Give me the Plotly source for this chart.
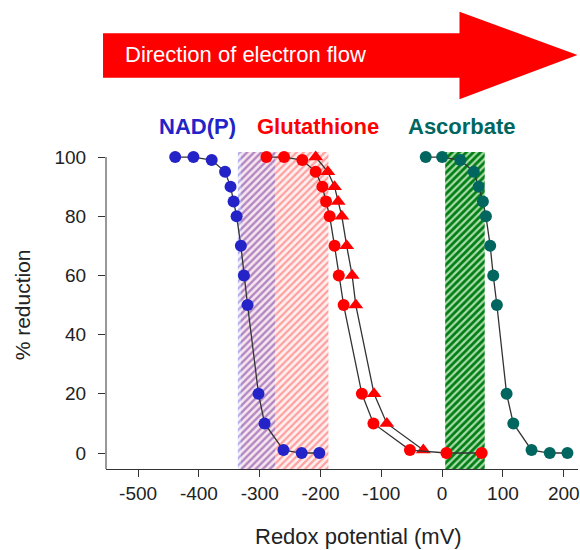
import plotly.graph_objects as go

# ---------------- data ----------------
nadp_x = [-439, -409, -379, -357, -348, -343, -338, -331, -326, -320, -302, -292, -261, -231, -202]
nadp_y = [100, 100, 99, 95, 90, 85, 80, 70, 60, 50, 20, 10, 1, 0, 0]

gsh_circle_x = [-289, -260, -230, -208, -197, -191, -185, -177, -170, -162, -132, -113, -53, 7, 65]
gsh_circle_y = [100, 100, 99, 95, 90, 85, 80, 70, 60, 50, 20, 10, 1, 0, 0]

gsh_tri_x = [-208, -188, -177, -171, -165, -157, -148, -142, -112, -91, -31]
gsh_tri_y = [100, 95, 90, 85, 80, 70, 60, 50, 20, 10, 1]

asc_x = [-27, 0, 30, 52, 60, 67, 72, 79, 84, 90, 106, 117, 147, 177, 206]
asc_y = [100, 100, 99, 95, 90, 85, 80, 70, 60, 50, 20, 10, 1, 0, 0]

# shaded potential windows (mV)
region_start = [-331, -336, 5]
region_end = [-187, -275, 70]

x_ticks = [-500, -400, -300, -200, -100, 0, 100, 200]
y_ticks = [0, 20, 40, 60, 80, 100]

series_labels = ["NAD(P)", "Glutathione", "Ascorbate"]

# ---------------- styling ----------------
W, H = 580, 550
ML, MR, MT, MB = 106, 0, 152, 81
XR = [-552.8, 223.4]
YR = [-5.4, 101.7]

BLUE = "#2323c8"
RED = "#ff0000"
TEAL = "#00665f"
LINE = "#333333"
FONT = "Arial, Liberation Sans, sans-serif"

pw = W - ML - MR
ph = H - MT - MB


def px_x(px):
    return (px - ML) / pw


def px_y(py):
    return (H - MB - py) / ph


fig = go.Figure()

region_styles = [
    dict(fg="rgba(255,60,60,0.45)", bg="rgba(255,225,225,0.5)", size=5, sol=0.45),
    dict(fg="rgba(90,90,220,0.45)", bg="rgba(215,200,235,0.25)", size=5, sol=0.45),
    dict(fg="rgb(0,125,20)", bg="rgb(170,220,170)", size=5, sol=0.55),
]
for s, e, st in zip(region_start, region_end, region_styles):
    fig.add_trace(go.Bar(
        x=[(s + e) / 2], y=[YR[1] - YR[0]], base=[YR[0]], width=[e - s],
        marker=dict(color="rgba(0,0,0,0)", line=dict(width=0),
                    pattern=dict(shape="/", fgcolor=st["fg"], bgcolor=st["bg"],
                                 size=st["size"], solidity=st["sol"], fillmode="replace")),
        hoverinfo="skip", showlegend=False))


def series(x, y, color, symbol, size):
    return go.Scatter(
        x=x, y=y, mode="lines+markers",
        line=dict(color=LINE, width=1.3),
        marker=dict(color=color, symbol=symbol, size=size, line=dict(width=0)),
        cliponaxis=False, showlegend=False)


fig.add_trace(series(nadp_x, nadp_y, BLUE, "circle", 12))
fig.add_trace(series(gsh_tri_x, gsh_tri_y, RED, "triangle-up", 13))
fig.add_trace(series(gsh_circle_x, gsh_circle_y, RED, "circle", 12))
fig.add_trace(series(asc_x, asc_y, TEAL, "circle", 12))

# arrow (decoration) in pixel -> paper coords
arrow_px = [(103, 33.3), (461, 33.3), (461, 11.7), (579.5, 55), (461, 99.3), (461, 77.7), (103, 77.7)]
path = "M " + " L ".join(f"{px_x(a):.4f},{px_y(b):.4f}" for a, b in arrow_px) + " Z"
fig.add_shape(type="path", path=path, xref="paper", yref="paper",
              fillcolor="#ff0000", line=dict(width=0), layer="above")

# y axis line from bottom to 100
fig.add_shape(type="line", xref="paper", yref="y", x0=0, x1=0, y0=YR[0], y1=100,
              line=dict(color=LINE, width=1))

ann = [
    dict(text="Direction of electron flow", x=px_x(123), y=px_y(55), xanchor="left",
         yanchor="middle", font=dict(size=22, color="white", family=FONT)),
    dict(text=f"<b>{series_labels[0]}</b>", x=px_x(198), y=px_y(126), xanchor="center",
         yanchor="middle", font=dict(size=22, color=BLUE, family=FONT)),
    dict(text=f"<b>{series_labels[1]}</b>", x=px_x(319), y=px_y(126), xanchor="center",
         yanchor="middle", font=dict(size=22, color=RED, family=FONT)),
    dict(text=f"<b>{series_labels[2]}</b>", x=px_x(464), y=px_y(126), xanchor="center",
         yanchor="middle", font=dict(size=22, color=TEAL, family=FONT)),
    dict(text="Redox potential (mV)", x=px_x(360), y=px_y(536), xanchor="center",
         yanchor="middle", font=dict(size=22, color="#222", family=FONT)),
    dict(text="% reduction", x=px_x(22), y=px_y(305), xanchor="center",
         yanchor="middle", textangle=-90, font=dict(size=21, color="#222", family=FONT)),
]
for a in ann:
    fig.add_annotation(xref="paper", yref="paper", showarrow=False, **a)

fig.update_layout(
    width=W, height=H, margin=dict(l=ML, r=MR, t=MT, b=MB, pad=0),
    paper_bgcolor="white", plot_bgcolor="white", barmode="overlay",
    font=dict(family=FONT, color="#222"),
    xaxis=dict(range=XR, tickvals=x_ticks, ticktext=[str(v) for v in x_ticks],
               showgrid=False, zeroline=False, showline=True, linecolor=LINE, linewidth=1,
               ticks="outside", ticklen=7, tickcolor=LINE, tickfont=dict(size=19),
               ticklabeloverflow="allow", fixedrange=True),
    yaxis=dict(range=YR, tickvals=y_ticks, showgrid=False, zeroline=False, showline=False,
               ticks="outside", ticklen=7, tickcolor=LINE, tickfont=dict(size=19),
               ticklabelstandoff=8, fixedrange=True),
)

fig.write_html(
    "out.html",
    config={"displayModeBar": False},
    post_script="document.body.style.margin='0';document.body.style.overflow='hidden';",
)
